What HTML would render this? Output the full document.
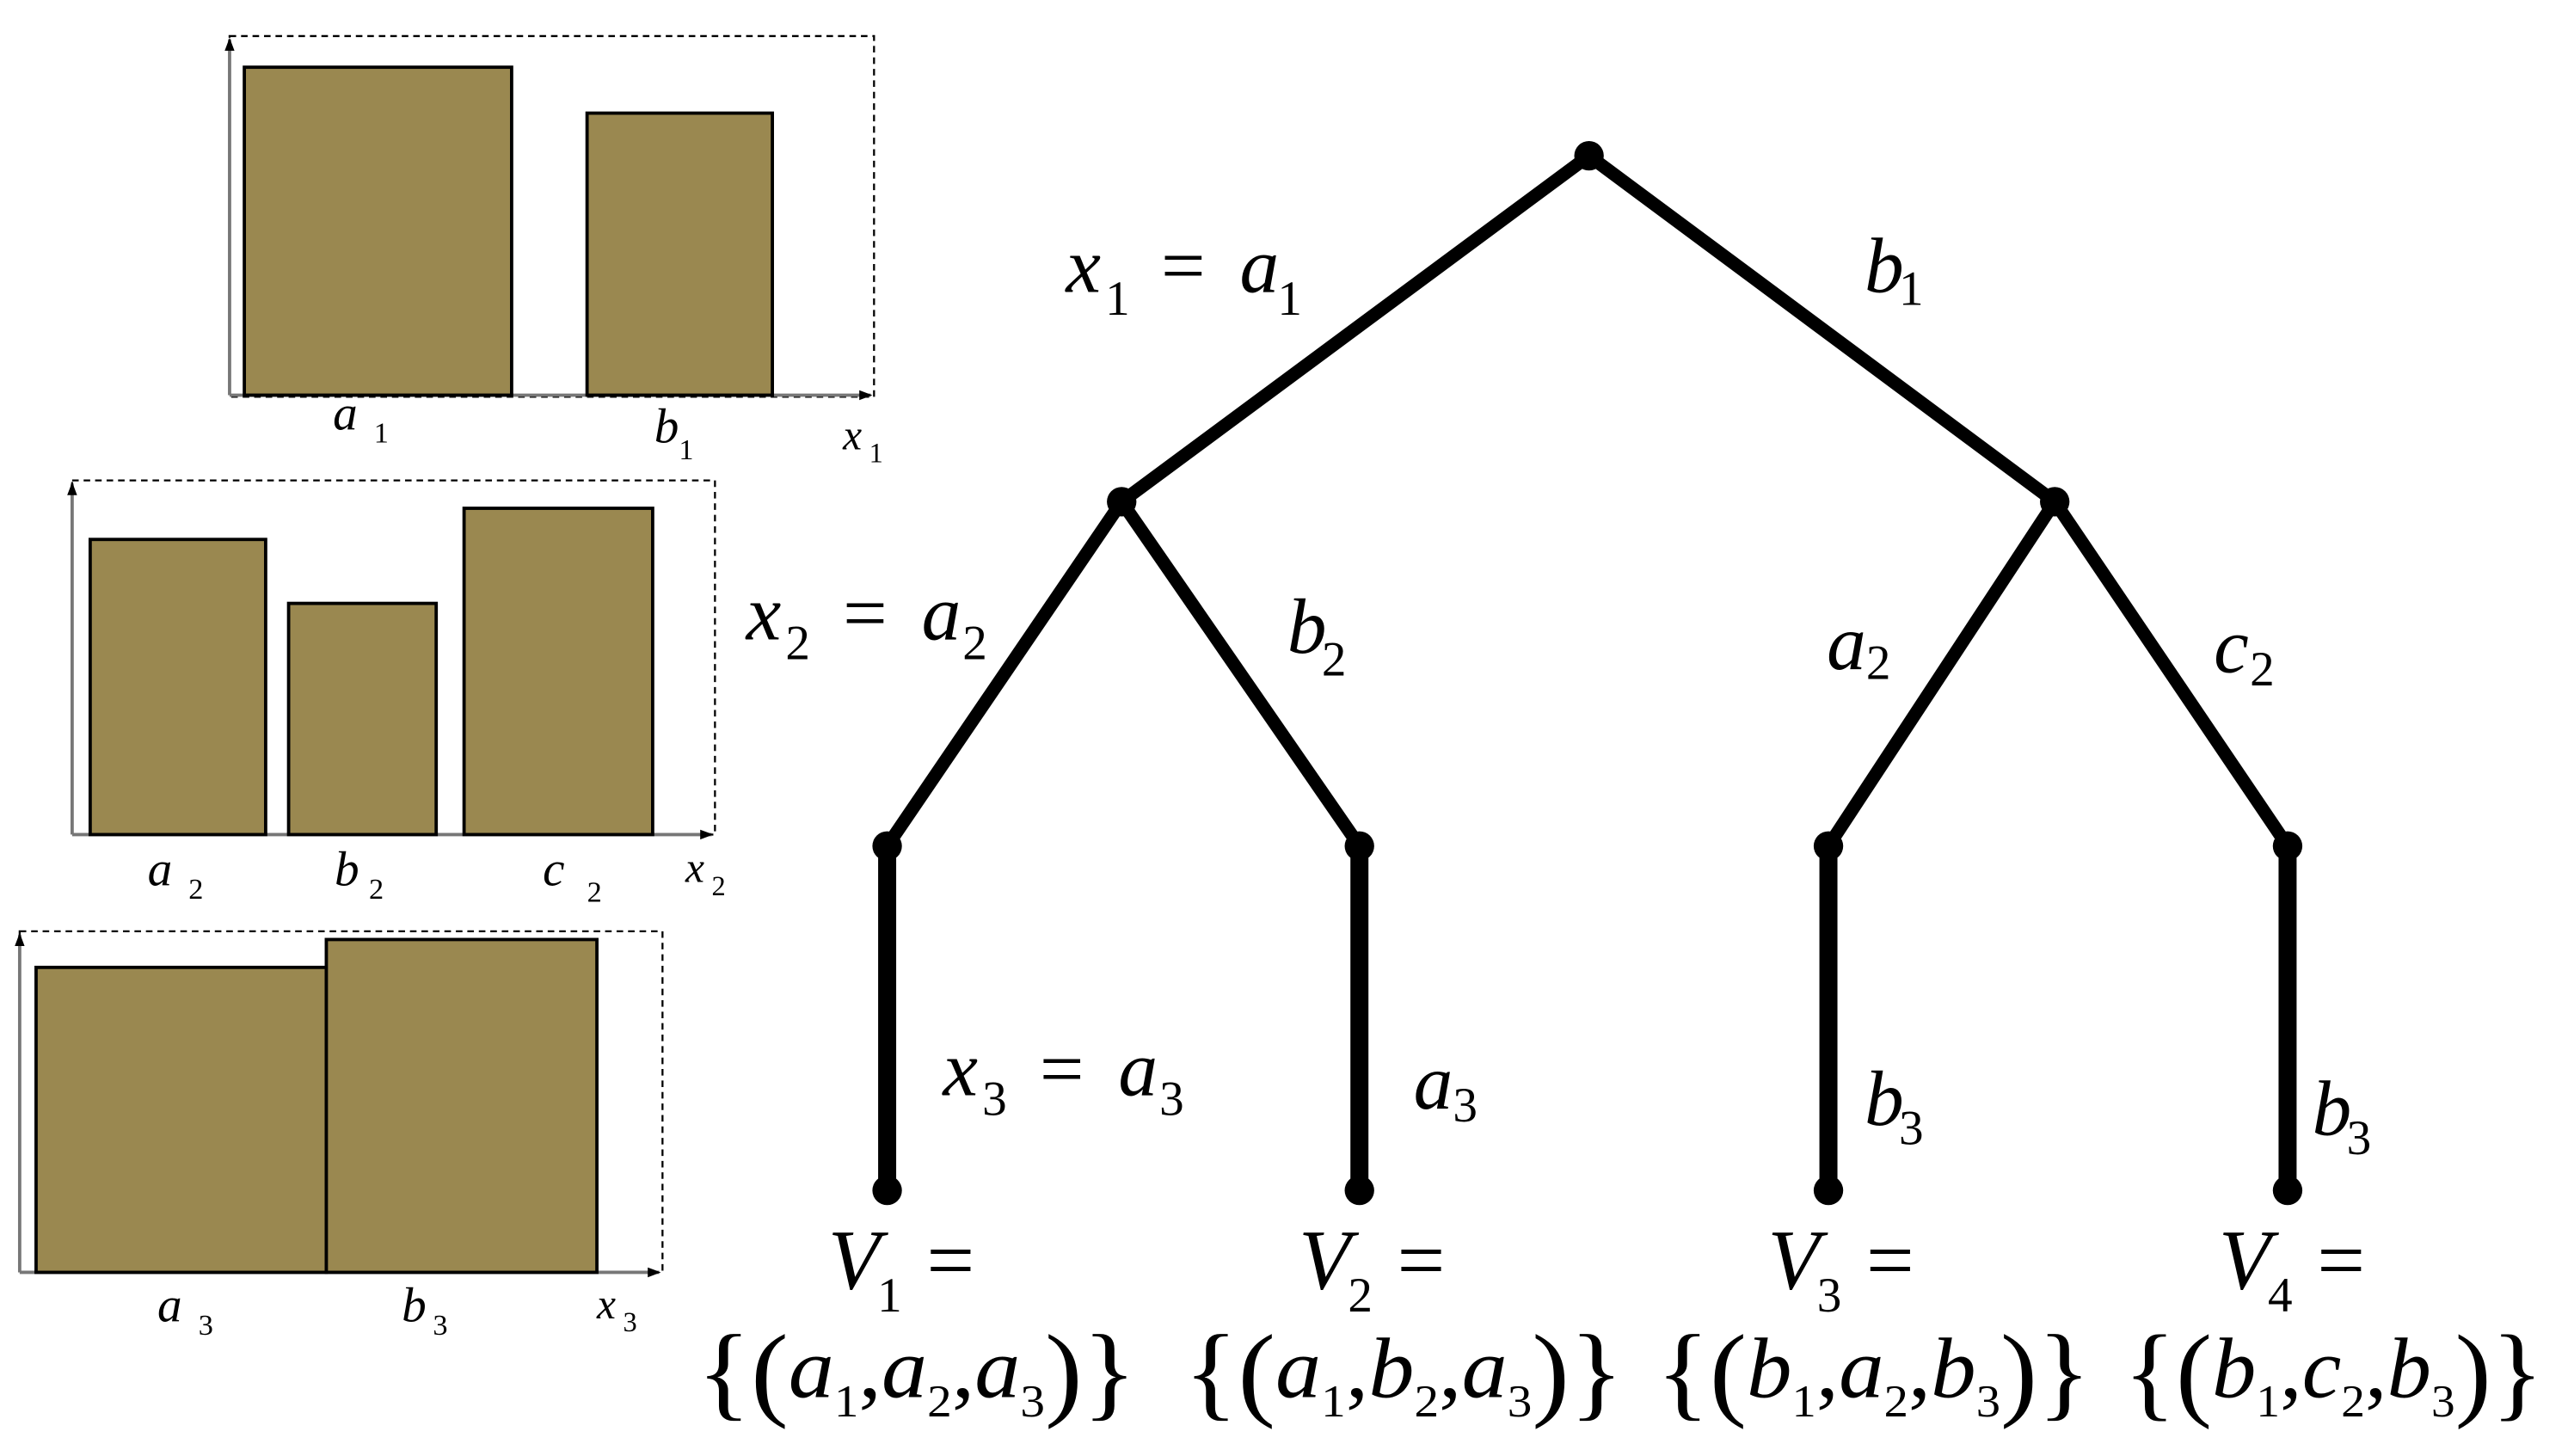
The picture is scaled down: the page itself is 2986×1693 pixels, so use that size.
<!DOCTYPE html>
<html><head><meta charset="utf-8"><style>
html,body{margin:0;padding:0;background:#fff;}
svg{display:block;}
svg text{font-family:"Liberation Serif","Times New Roman",Times,serif;fill:#000;}
.i{font-style:italic;}
</style></head><body>
<svg width="2986" height="1693" viewBox="0 0 1566 888" preserveAspectRatio="none" xmlns="http://www.w3.org/2000/svg">
<defs>
<marker id="ar" markerWidth="8" markerHeight="8" refX="7" refY="4" orient="auto" markerUnits="userSpaceOnUse"><path d="M0,1 L8,4 L0,7 z" fill="#000"/></marker>
</defs>
<!-- Chart 1 -->
<rect x="140" y="22" width="393" height="220" fill="none" stroke="#000" stroke-width="1.2" stroke-dasharray="4,3"/>
<line x1="140" y1="241" x2="140" y2="24" stroke="#777" stroke-width="2" marker-end="url(#ar)"/>
<line x1="140" y1="241" x2="531" y2="241" stroke="#777" stroke-width="2" marker-end="url(#ar)"/>
<rect x="149" y="41" width="163" height="200" fill="#9a8850" stroke="#000" stroke-width="2"/>
<rect x="358" y="69" width="113" height="172" fill="#9a8850" stroke="#000" stroke-width="2"/>
<text class="i" x="203" y="262" font-size="30">a</text><text x="228" y="270" font-size="18">1</text>
<text class="i" x="399" y="270" font-size="30">b</text><text x="414" y="280" font-size="18">1</text>
<text class="i" x="514" y="274" font-size="26">x</text><text x="530" y="282" font-size="17">1</text>
<!-- Chart 2 -->
<rect x="44" y="293" width="392" height="216" fill="none" stroke="#000" stroke-width="1.2" stroke-dasharray="4,3"/>
<line x1="44" y1="509" x2="44" y2="295" stroke="#777" stroke-width="2" marker-end="url(#ar)"/>
<line x1="44" y1="509" x2="434" y2="509" stroke="#777" stroke-width="2" marker-end="url(#ar)"/>
<rect x="55" y="329" width="107" height="180" fill="#9a8850" stroke="#000" stroke-width="2"/>
<rect x="176" y="368" width="90" height="141" fill="#9a8850" stroke="#000" stroke-width="2"/>
<rect x="283" y="310" width="115" height="199" fill="#9a8850" stroke="#000" stroke-width="2"/>
<text class="i" x="90" y="540" font-size="30">a</text><text x="115" y="548" font-size="18">2</text>
<text class="i" x="204" y="540" font-size="30">b</text><text x="225" y="548" font-size="18">2</text>
<text class="i" x="331" y="540" font-size="30">c</text><text x="358" y="550" font-size="18">2</text>
<text class="i" x="418" y="538" font-size="26">x</text><text x="434" y="546" font-size="17">2</text>
<!-- Chart 3 -->
<rect x="12" y="568" width="392" height="208" fill="none" stroke="#000" stroke-width="1.2" stroke-dasharray="4,3"/>
<line x1="12" y1="776" x2="12" y2="570" stroke="#777" stroke-width="2" marker-end="url(#ar)"/>
<line x1="12" y1="776" x2="402" y2="776" stroke="#777" stroke-width="2" marker-end="url(#ar)"/>
<rect x="22" y="590" width="177" height="186" fill="#9a8850" stroke="#000" stroke-width="2"/>
<rect x="199" y="573" width="165" height="203" fill="#9a8850" stroke="#000" stroke-width="2"/>
<text class="i" x="96" y="806" font-size="30">a</text><text x="121" y="814" font-size="18">3</text>
<text class="i" x="245" y="806" font-size="30">b</text><text x="264" y="814" font-size="18">3</text>
<text class="i" x="364" y="804" font-size="26">x</text><text x="380" y="812" font-size="17">3</text>
<!-- Tree -->
<g stroke="#000" stroke-linecap="round" stroke-width="8">
<line x1="969" y1="95" x2="684" y2="306"/>
<line x1="969" y1="95" x2="1253" y2="306"/>
<line x1="684" y1="306" x2="541" y2="516"/>
<line x1="684" y1="306" x2="829" y2="516"/>
<line x1="1253" y1="306" x2="1115" y2="516"/>
<line x1="1253" y1="306" x2="1395" y2="516"/>
</g>
<g stroke="#000" stroke-width="11">
<line x1="541" y1="516" x2="541" y2="726"/>
<line x1="829" y1="516" x2="829" y2="726"/>
<line x1="1115" y1="516" x2="1115" y2="726"/>
<line x1="1395" y1="516" x2="1395" y2="726"/>
</g>
<g fill="#000">
<circle cx="969" cy="95" r="9"/><circle cx="684" cy="306" r="9"/><circle cx="1253" cy="306" r="9"/>
<circle cx="541" cy="516" r="9"/><circle cx="829" cy="516" r="9"/><circle cx="1115" cy="516" r="9"/><circle cx="1395" cy="516" r="9"/>
<circle cx="541" cy="726" r="9"/><circle cx="829" cy="726" r="9"/><circle cx="1115" cy="726" r="9"/><circle cx="1395" cy="726" r="9"/>
</g>
<!-- Edge labels -->
<g font-size="48">
<text class="i" x="650" y="178">x</text><text x="674" y="192" font-size="30">1</text><text x="708" y="178">=</text><text class="i" x="756" y="178">a</text><text x="779" y="192" font-size="30">1</text>
<text class="i" x="1137" y="178">b</text><text x="1158" y="186" font-size="30">1</text>
<text class="i" x="455" y="390">x</text><text x="479" y="402" font-size="30">2</text><text x="514" y="390">=</text><text class="i" x="562" y="390">a</text><text x="587" y="402" font-size="30">2</text>
<text class="i" x="785" y="398">b</text><text x="806" y="412" font-size="30">2</text>
<text class="i" x="1114" y="408">a</text><text x="1138" y="414" font-size="30">2</text>
<text class="i" x="1350" y="410">c</text><text x="1372" y="418" font-size="30">2</text>
<text class="i" x="575" y="668">x</text><text x="599" y="680" font-size="30">3</text><text x="634" y="668">=</text><text class="i" x="682" y="668">a</text><text x="707" y="680" font-size="30">3</text>
<text class="i" x="862" y="676">a</text><text x="886" y="684" font-size="30">3</text>
<text class="i" x="1137" y="686">b</text><text x="1158" y="698" font-size="30">3</text>
<text class="i" x="1410" y="692">b</text><text x="1431" y="704" font-size="30">3</text>
</g>
<!-- V labels -->
<g font-size="52">
<text class="i" x="505" y="786">V</text><text x="535" y="800" font-size="30">1</text><text x="565" y="786">=</text>
<text class="i" x="792" y="786">V</text><text x="822" y="800" font-size="30">2</text><text x="852" y="786">=</text>
<text class="i" x="1078" y="786">V</text><text x="1108" y="800" font-size="30">3</text><text x="1138" y="786">=</text>
<text class="i" x="1353" y="786">V</text><text x="1383" y="800" font-size="30">4</text><text x="1413" y="786">=</text>
</g>
<!-- Sets -->
<g font-size="52">
<text x="425" y="852" textLength="268" lengthAdjust="spacingAndGlyphs"><tspan font-size="64" dy="6">{(</tspan><tspan class="i" dy="-6">a</tspan><tspan font-size="28" dy="12">1</tspan><tspan dy="-12">,</tspan><tspan class="i">a</tspan><tspan font-size="28" dy="12">2</tspan><tspan dy="-12">,</tspan><tspan class="i">a</tspan><tspan font-size="28" dy="12">3</tspan><tspan font-size="64" dy="-6">)}</tspan></text>
<text x="722" y="852" textLength="268" lengthAdjust="spacingAndGlyphs"><tspan font-size="64" dy="6">{(</tspan><tspan class="i" dy="-6">a</tspan><tspan font-size="28" dy="12">1</tspan><tspan dy="-12">,</tspan><tspan class="i">b</tspan><tspan font-size="28" dy="12">2</tspan><tspan dy="-12">,</tspan><tspan class="i">a</tspan><tspan font-size="28" dy="12">3</tspan><tspan font-size="64" dy="-6">)}</tspan></text>
<text x="1010" y="852" textLength="265" lengthAdjust="spacingAndGlyphs"><tspan font-size="64" dy="6">{(</tspan><tspan class="i" dy="-6">b</tspan><tspan font-size="28" dy="12">1</tspan><tspan dy="-12">,</tspan><tspan class="i">a</tspan><tspan font-size="28" dy="12">2</tspan><tspan dy="-12">,</tspan><tspan class="i">b</tspan><tspan font-size="28" dy="12">3</tspan><tspan font-size="64" dy="-6">)}</tspan></text>
<text x="1295" y="852" textLength="256" lengthAdjust="spacingAndGlyphs"><tspan font-size="64" dy="6">{(</tspan><tspan class="i" dy="-6">b</tspan><tspan font-size="28" dy="12">1</tspan><tspan dy="-12">,</tspan><tspan class="i">c</tspan><tspan font-size="28" dy="12">2</tspan><tspan dy="-12">,</tspan><tspan class="i">b</tspan><tspan font-size="28" dy="12">3</tspan><tspan font-size="64" dy="-6">)}</tspan></text>
</g>
</svg>
</body></html>
